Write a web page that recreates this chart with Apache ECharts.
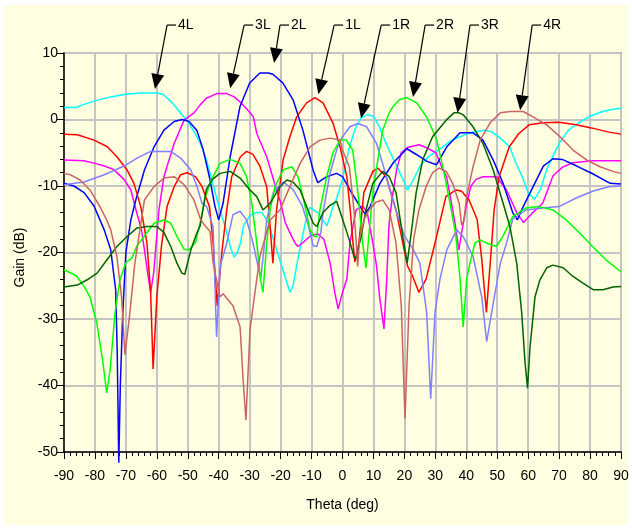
<!DOCTYPE html>
<html><head><meta charset="utf-8">
<script src="https://cdn.jsdelivr.net/npm/echarts@6/dist/echarts.min.js"></script>
<style>
html,body{margin:0;padding:0;background:#fff;}
#bg{position:absolute;left:4px;top:5px;width:624px;height:520px;background:#FFFEE1;}
#c{position:absolute;left:0;top:0;width:632px;height:528px;}
</style></head><body>
<div id="bg"></div>
<div id="c"></div>
<script>
// ---- data (theta in deg, gain in dB) ----
const xTicks = [-90,-80,-70,-60,-50,-40,-30,-20,-10,0,10,20,30,40,50,60,70,80,90];
const yTicks = [10,0,-10,-20,-30,-40,-50];

const theta4L = [-90,-86,-84,-80,-75,-70,-65,-60,-58,-55,-52,-50,-48,-46,-44,-42,-40,-38,-36,-35,-34,-33,-32,-30,-28,-26,-24,-22,-20,-18,-17,-16,-14,-12,-10.5,-8,-5,-3,-2,0,2,4,6,8,10,12,14,16,18,20,21,23,25,28,31,35,40,43,46,48,51,54,56,58,60,62,64,66,68,70,73,76,80,84,87,90];
const gain4L  = [1.8,1.8,2.2,2.8,3.4,3.8,4.0,4.0,3.8,2.5,0.8,-0.3,-1.8,-3.5,-6,-9.5,-13,-16,-19.5,-20.7,-20,-18.6,-16,-14.5,-14,-14,-15.5,-18.5,-21.5,-24.5,-26,-25,-20,-15.5,-13.2,-14,-16,-13,-12,-9,-4.6,-1.5,0.3,0.7,0.5,-1.2,-3.5,-5.5,-7.5,-9.5,-10.6,-9,-7,-5.5,-4.6,-3.2,-2.2,-1.8,-1.6,-1.8,-2.8,-4.1,-6.5,-8.5,-11,-12,-10.5,-7.5,-5.5,-3.6,-1.6,-0.6,0.5,1.2,1.5,1.7];

const theta3L = [-90,-83.5,-80,-77,-74,-70.6,-68.4,-66.8,-65,-64,-63,-62,-61,-60.4,-59.3,-57.7,-56,-54.4,-51.2,-48,-46,-44,-40.6,-37.4,-35,-33,-31,-28.8,-27.7,-24.5,-21.3,-20,-18.5,-16.5,-15.3,-14.4,-13,-11.6,-10,-8,-6,-4,-2.5,-1.4,0,1.4,2.4,3.4,4.4,6.5,8,9.8,11,12,13.4,14.3,15,16,17.5,19,21,24.7,27,30.2,32.4,33.6,35,36.5,37.6,38.5,40,41.5,43.2,45.4,49.8,53,56.3,58.5,61.5,64.7,68,71,74.4,80.8,90];
const gain3L  = [-6.1,-6.2,-6.6,-7,-7.5,-9,-10.6,-13.5,-16.5,-19.6,-23,-26,-23,-19.6,-13.5,-8.6,-6,-3.6,-0.1,1,2.2,3.2,3.9,3.9,3.4,2.6,1.6,0.4,-2.1,-5.6,-10.6,-12.5,-15.5,-17.5,-18.6,-19.1,-18.6,-18,-17.4,-17.2,-18,-21.6,-26,-28.5,-26,-24,-18.6,-16,-13.6,-13,-14,-18.6,-22,-26.7,-31.5,-24,-16,-12,-7.5,-5,-4.2,-3.8,-4.2,-5,-7.5,-8.6,-12,-16,-19.6,-17,-13,-10,-9,-8.6,-8.6,-10.6,-14,-15.5,-14,-12.6,-8.5,-7.2,-6.5,-6.2,-6.2];

const theta2L = [-90,-86.8,-83.5,-80.3,-77,-74.9,-73.3,-72.8,-72.3,-71.8,-71,-70,-68.4,-66.8,-64,-60.9,-57.7,-54.4,-51.8,-49.6,-47.1,-45,-42.8,-41.2,-40,-38.6,-36.3,-33.1,-30,-26.7,-24,-22.5,-19.3,-16,-12.8,-9.5,-8,-5.1,-1.9,0,2.4,5.7,7.3,8.9,12.1,16.4,20.8,24,27.3,30.4,33.7,38,42.2,45.4,48.7,51.9,55,56.5,58.4,61.6,64.9,68,71,75.7,81,86.5,90];
const gain2L  = [-9.6,-10,-11,-13,-16.6,-19.6,-25.6,-35,-51.6,-40,-29,-20,-15.1,-12.1,-7.6,-4.1,-1.6,-0.3,0,-0.3,-1.6,-4.6,-9.1,-13.1,-15.1,-12.6,-5.6,2,5.5,7,7,6.8,5.5,3,-1.6,-7.6,-9.5,-8.6,-8.1,-8.6,-10.6,-13.1,-14.2,-13.1,-9.6,-6.5,-4.4,-5.3,-6.3,-6.8,-4.1,-2,-2,-3.1,-6.1,-9.6,-14,-15.1,-13.1,-10.1,-7,-5.9,-6,-7,-8.2,-9.6,-9.7];

const theta1L = [-90,-85.7,-80.3,-76,-72.9,-69.6,-67.4,-65.2,-63.2,-62,-61.2,-60,-58.5,-56.7,-54.4,-52.3,-50.2,-47.5,-45.4,-43,-41.8,-40.5,-39,-37.4,-35.8,-33,-31,-29,-26.7,-24.5,-23.4,-22.5,-21.3,-19.2,-17,-14.8,-11.6,-8.9,-6.3,-3.1,-0.8,1.4,2.5,3.4,4,5.3,6.9,9.8,11.4,14.1,17.3,19.5,21,22.7,24.7,27,30.2,33.4,36.7,38.5,40.9,43.5,45,46.5,48,49,50.6,53.9,57,60.3,64.7,70,75.5,80.8,86.1,90];
const gain1L  = [-2.2,-2.3,-3.1,-4.1,-5.6,-7.6,-9.6,-13.1,-18.6,-26,-37.5,-26.7,-19,-13.1,-10.1,-8.3,-8,-8.6,-10.1,-13.1,-18.6,-28,-20,-13.6,-8.6,-5.6,-4.8,-5.2,-7,-10.1,-16.1,-21.6,-13.6,-6.1,-2.6,0.4,2.5,3.3,2.5,-0.5,-4.1,-8.6,-13.6,-18.6,-21.4,-18.6,-11,-7.8,-7.3,-8.6,-13.6,-18.6,-22,-23.6,-26,-24,-18,-11.6,-10.6,-10.8,-12.1,-15,-21,-29,-20,-13.6,-8.6,-4.1,-2.1,-0.8,-0.5,-0.4,-0.8,-1.3,-1.9,-2.2];

const theta1R = [-90,-83.5,-77,-70.6,-66.4,-62,-55.5,-52.3,-49,-47,-45.4,-43.9,-41.8,-40.7,-39.5,-37.4,-35.4,-33.1,-31,-28.9,-27.3,-26.4,-25.5,-24.5,-22.4,-19.2,-16,-13,-11,-9.5,-8.3,-7,-6.3,-4,-1.9,-0.8,2.4,5,7.8,11,13.2,15.3,17.5,20,22.9,25,27.2,28.5,29.9,31.5,33.7,36.9,39,42.2,45,46.6,48.2,51,53,55,59.3,64.7,70,75.5,80.8,86.1,90];
const gain1R  = [-9.8,-9.4,-8.3,-7,-5.8,-4.8,-4.8,-5.8,-7.6,-10.1,-12.6,-13.1,-16.2,-32.7,-22,-18.6,-14.3,-13.8,-15.1,-18.6,-22.1,-23.8,-20,-15.1,-11,-9.4,-10.5,-13,-16,-19,-19.1,-17,-14,-8,-4.6,-3.1,-1.1,-0.6,-1.1,-3.6,-7,-10.6,-14,-17.5,-19.6,-21.6,-29,-42,-29,-24,-19.6,-16.6,-17.6,-20.6,-26.7,-33.4,-29,-21.6,-18.6,-15,-13.6,-13.3,-13.1,-11.8,-10.8,-10.1,-10];

const theta2R = [-90,-86,-83.5,-81.6,-79.4,-77.4,-76.2,-75.1,-73.5,-71.9,-70,-68,-66.4,-63.2,-60.9,-57.7,-55.5,-53.5,-51.2,-49.6,-47.5,-46,-44.5,-42.8,-39.6,-36.3,-33.1,-31,-29.3,-27.7,-26.5,-25.7,-24.5,-23.4,-21.8,-19.2,-16.4,-14.4,-12.8,-10.5,-9.2,-8.3,-7.3,-5.1,-3.1,-0.8,1.2,3.3,5,6.5,7.6,8.6,9.8,11.4,13,15.1,16.4,18.5,20.8,24,27.3,30.4,32.6,34.5,36.5,38,39,40.1,41.2,42.8,44.5,46.6,49.7,51.8,55,59.3,63.5,68,72.3,76.5,80.8,85.1,90];
const gain2R  = [-22.6,-23.5,-25.1,-26.7,-30.6,-36.6,-41.1,-37.7,-29,-24.1,-21.5,-20.8,-19,-17,-15.6,-15.1,-15.6,-17.6,-19.5,-19.6,-18.5,-15.5,-12,-9.5,-6.6,-6,-6.6,-8.6,-12.6,-18.6,-24,-26,-18.6,-13.6,-10.1,-7.6,-7.1,-8.6,-11.6,-16.6,-17.6,-17.6,-13.6,-8.6,-5,-3.1,-3.1,-4.6,-11,-18.6,-22.3,-17,-11,-6.1,-1.6,1,2,3,3.3,2.5,0.3,-3,-7.5,-12,-17,-24,-31.2,-24.1,-21.6,-18.6,-18.1,-18.6,-19.1,-17.6,-14.6,-13.3,-13.1,-13.6,-15.1,-17,-19.1,-21.1,-22.9];

const theta3R = [-90,-85.7,-82.5,-79.3,-76.1,-72.9,-69.6,-66.4,-63.2,-59.9,-57.7,-55.5,-53.5,-51.9,-51,-49,-47,-46,-44,-42,-39.6,-36.3,-33.1,-29.9,-27.7,-25.7,-23.4,-20.2,-18,-16,-13.7,-11.6,-9.5,-8.3,-6.3,-4,-1.9,0.1,2.2,3.7,4.3,6,7.6,9.8,13,15.1,17.3,19.5,20.9,22.5,23.8,25.9,29.1,33.5,36,37.7,39,42.2,45.4,48.7,51.9,54.1,56.3,57.9,59,59.8,60.6,62.2,63.8,66,68,71.3,74.5,77.7,81,84.2,87.4,90];
const gain3R  = [-25.2,-24.9,-24.1,-23.1,-21.1,-19.1,-17.6,-16.3,-16.1,-16.1,-17,-19.1,-21.6,-23.1,-23.3,-19.6,-17,-16,-10.5,-9,-8.1,-7.8,-8.8,-10.6,-11.6,-13.6,-12.6,-10.1,-9.1,-9.4,-10.6,-13.1,-15.6,-16.1,-14,-12.9,-12.3,-15.1,-18.1,-20.6,-21,-17.6,-13.6,-9.6,-7.8,-8.6,-11,-17.6,-21.6,-16,-11,-6.1,-2.6,-0.1,1,1,0.7,-1.1,-3.6,-7.6,-12.6,-16.1,-21.6,-29,-36.6,-40.4,-34.2,-26.7,-24.1,-22.3,-21.9,-22.3,-23.6,-24.6,-25.6,-25.6,-25.2,-25.1];

const theta4R = [-90,-88,-84.8,-81.6,-78.4,-76.2,-74.9,-72.9,-71.4,-70.3,-68.7,-67.1,-64,-60.9,-57.7,-54.4,-51.2,-48,-45.8,-44,-42.8,-41.8,-39.6,-38.6,-35.4,-33.1,-32.1,-31.2,-29.9,-28.9,-26.7,-23.4,-20.2,-17,-13.7,-10.5,-7.3,-4,-0.8,0,2.2,3.7,4.6,4.9,5.5,7,8.6,10.9,13,15.1,17.3,19,20.2,21.5,23,24.7,27,29.1,31.2,33.5,35.6,37.7,38.5,39.3,40.1,42.2,44.5,47.7,51,54.2,58.4,61.6,66,70.3,74.5,79,83.2,87.4,90];
const gain4R  = [-8.1,-8.3,-9.1,-10.6,-13.1,-15.1,-16.6,-20.6,-26.7,-35.4,-29,-21.6,-12.1,-10.1,-8.8,-8.6,-9.8,-12.1,-15.1,-16.2,-16.8,-21.6,-26.7,-26.2,-28,-31.2,-39.2,-45.2,-31.7,-28.1,-20.6,-15.1,-13.6,-10.1,-6.6,-4.1,-3.1,-2.8,-3.1,-4.6,-7.1,-13.6,-19.6,-22.1,-18,-15,-13.6,-12.4,-12.1,-13.6,-18.6,-28,-45,-28,-18,-13.6,-10.1,-8,-7.3,-7.8,-9.6,-12.6,-15.9,-15.1,-11.6,-7.1,-3.1,-0.5,1,1.2,1.2,0.4,-0.8,-2.6,-4.6,-6.1,-7.1,-7.8,-8.1];

// annotations (label anchor and arrow tip, in data units)
const beamNames = ['4L','3L','2L','1L','1R','2R','3R','4R'];
const anchorTheta = [-56.7,-31.8,-20.2,-2.7,12.5,26.7,41.2,61.3];
const anchorGain = 14.2;
const tipTheta = [-60.6,-36.3,-22.1,-7.8,6,22.8,37.2,57.4];
const tipGain  = [4.6,4.7,8.5,3.8,0.2,3.4,1.0,1.4];

const seriesDefs = [
  ['4L', theta4L, gain4L, '#00FFFF'],
  ['3L', theta3L, gain3L, '#FF00FF'],
  ['2L', theta2L, gain2L, '#0000FF'],
  ['1L', theta1L, gain1L, '#FF0000'],
  ['1R', theta1R, gain1R, '#8080FF'],
  ['2R', theta2R, gain2R, '#00FF00'],
  ['3R', theta3R, gain3R, '#006400'],
  ['4R', theta4R, gain4R, '#C86464']
];

const chart = echarts.init(document.getElementById('c'), null, {renderer:'canvas'});
const font = 'Liberation Sans, Arial, sans-serif';
chart.setOption({
  animation:false,
  backgroundColor:'transparent',
  grid:{left:64,right:11,top:53,bottom:76,show:true,borderColor:'#222',borderWidth:1.5,backgroundColor:'transparent'},
  xAxis:{type:'value',min:-90,max:90,interval:10,
    name:'Theta (deg)',nameLocation:'middle',nameGap:46,
    nameTextStyle:{fontFamily:font,fontSize:14,color:'#000'},
    axisLine:{onZero:false,lineStyle:{color:'#000',width:1.5}},
    axisTick:{show:true,length:7,lineStyle:{color:'#000',width:1}},
    minorTick:{show:true,splitNumber:5,length:4,lineStyle:{color:'#000',width:1}},
    splitLine:{show:true,lineStyle:{color:'#C4C4C4',width:2}},
    axisLabel:{fontFamily:font,fontSize:14,color:'#000',margin:17,
      formatter:v=>xTicks.includes(v)?String(v):''}},
  yAxis:{type:'value',min:-50,max:10,interval:10,
    name:'Gain (dB)',nameLocation:'middle',nameGap:36,nameRotate:90,
    nameTextStyle:{fontFamily:font,fontSize:14,color:'#000',padding:[0,10,0,0]},
    axisLine:{show:true,onZero:false,lineStyle:{color:'#000',width:1.5}},
    axisTick:{show:true,length:7,lineStyle:{color:'#000',width:1}},
    minorTick:{show:true,splitNumber:5,length:4,lineStyle:{color:'#000',width:1}},
    splitLine:{show:true,lineStyle:{color:'#C4C4C4',width:2}},
    axisLabel:{fontFamily:font,fontSize:14,color:'#000',margin:6,
      formatter:v=>yTicks.includes(v)?String(v):''}},
  series: seriesDefs.map(([n,t,g,c]) => ({
    name:n,type:'line',symbol:'none',clip:n!=='2L',
    lineStyle:{color:c,width:1.5},
    data:t.map((x,i)=>[x,g[i]])
  }))
});

// arrows and beam labels placed through the axes
const gr = [];
beamNames.forEach((nm,i)=>{
  const a = chart.convertToPixel({gridIndex:0},[anchorTheta[i],anchorGain]);
  const t = chart.convertToPixel({gridIndex:0},[tipTheta[i],tipGain[i]]);
  const dx=t[0]-a[0], dy=t[1]-a[1], L=Math.hypot(dx,dy), ux=dx/L, uy=dy/L;
  const hl=15, hw=6.5;
  const bx=t[0]-ux*hl, by=t[1]-uy*hl;
  gr.push({type:'line',shape:{x1:a[0],y1:a[1],x2:bx,y2:by},style:{stroke:'#000',lineWidth:1.2},z:100});
  gr.push({type:'line',shape:{x1:a[0],y1:a[1],x2:a[0]+9,y2:a[1]},style:{stroke:'#000',lineWidth:1.2},z:100});
  gr.push({type:'polygon',shape:{points:[[t[0],t[1]],[bx-uy*hw,by+ux*hw],[bx+uy*hw,by-ux*hw]]},style:{fill:'#000'},z:100});
  gr.push({type:'text',x:a[0]+11,y:a[1],style:{text:nm,font:'14px '+font,fill:'#000',textVerticalAlign:'middle',verticalAlign:'middle'},z:100});
});
chart.setOption({graphic:gr});
</script>
</body></html>
